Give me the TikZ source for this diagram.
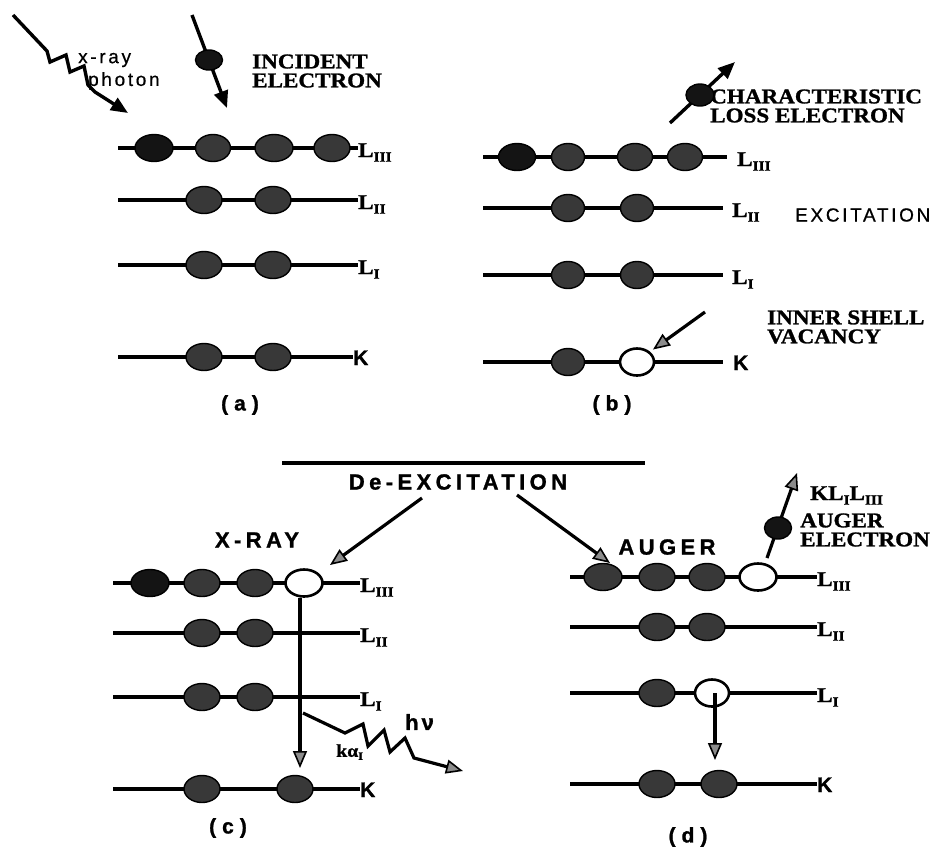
\documentclass[tikz,border=0pt]{standalone}
\usepackage{fontspec}
\setmainfont{Liberation Serif}
\newfontfamily\serb[FakeStretch=1.1,FakeBold=1.2]{Liberation Serif Bold}
\newfontfamily\sa{Liberation Sans}
\newfontfamily\sab[FakeBold=1.2]{Liberation Sans Bold}
\newfontfamily\sasp[LetterSpace=14,FakeBold=0.6]{Liberation Sans}
\newfontfamily\sabsp[LetterSpace=20,FakeBold=1.2]{Liberation Sans Bold}
\usetikzlibrary{shapes.geometric,arrows.meta,calc}
\newcommand{\Lsub}[1]{L\raisebox{-0.22em}{\fontsize{14}{14}\selectfont #1}}
\tikzset{
 lev/.style={line width=3.2},
 el/.style={ellipse,draw=black,fill=black!78,line width=1.4,minimum width=36,minimum height=27,inner sep=0},
 eld/.style={el,fill=black!92},
 hole/.style={ellipse,draw=black,fill=white,line width=2.6,minimum width=36,minimum height=27,inner sep=0},
 lab/.style={anchor=base west,inner sep=0,font=\serb\fontsize{21}{21}\selectfont},
 klab/.style={anchor=base west,inner sep=0,font=\sab\fontsize{21}{21}\selectfont},
 ser/.style={font=\serb\fontsize{21}{19}\selectfont,align=left,inner sep=0,anchor=west},
 sans/.style={font=\sasp\fontsize{19}{21}\selectfont,align=left,inner sep=0,anchor=west},
 sbold/.style={font=\sabsp\fontsize{22}{22}\selectfont,inner sep=0},
 plab/.style={font=\sab\fontsize{21}{21}\selectfont,inner sep=0},
 arr/.style={line width=3.4,-{Triangle[length=17,width=14]}},
 sarr/.style={line width=3.2,-{Triangle[length=17,width=14,line width=1.6,fill=black!45]}},
}
\begin{document}
\begin{tikzpicture}[x=1pt,y=-1pt]
\useasboundingbox (0,0) rectangle (940,847);
\fill[white] (0,0) rectangle (940,847);

% ================= panel (a)
\node[lab] (a1l) at (358,157) {\Lsub{III}};
\node[lab] (a2l) at (358,209) {\Lsub{II}};
\node[lab] (a3l) at (358,274) {\Lsub{I}};
\node[klab] (a4l) at (353,365) {K};
\coordinate (a1s) at (118,148);
\coordinate (a2s) at (118,200);
\coordinate (a3s) at (118,265);
\coordinate (a4s) at (118,357);
\draw[lev] (a1s) -- (a1s -| a1l.west);
\draw[lev] (a2s) -- (a2s -| a2l.west);
\draw[lev] (a3s) -- (a3s -| a3l.west);
\draw[lev] (a4s) -- (a4s -| a4l.west);
\node[eld,minimum width=38] (a1e1) at (154,148) {};
\node[el,minimum width=35] (a1e2) at (213,148) {};
\node[el,minimum width=38] (a1e3) at (274,148) {};
\node[el,minimum width=36] (a1e4) at (332,148) {};
\node[el] (a2e1) at (204,200) {};
\node[el] (a2e2) at (273,200) {};
\node[el] (a3e1) at (204,265) {};
\node[el] (a3e2) at (273,265) {};
\node[el] (a4e1) at (204,357) {};
\node[el] (a4e2) at (273,357) {};
\node[plab] (acap) at (240,405) {(\kern6pt a\kern6pt)};

% x-ray photon
\node[sans] (xr) at (78,60) {x-ray};
\node[sans] (ph) at (88,81) {photon};
\coordinate (xs) at (13,15);
\coordinate (xe) at (128,113);
\draw[line width=3.4,-{Triangle[length=17,width=14]}] (xs) -- (47,51) -- (50,62) -- (66,55) -- (70,72) -- (84,66) -- (88,85) -- (95,92) -- (xe);
% incident electron
\coordinate (ies) at (192,15);
\coordinate (iee) at (227,108);
\draw[arr] (ies) -- (iee);
\node[eld,minimum width=27,minimum height=20] (ie) at (209,60) {};
\node[ser] (ietx) at (252,71) {INCIDENT\\ELECTRON};

% ================= panel (b)
\node[lab] (b1l) at (737,166) {\Lsub{III}};
\node[lab] (b2l) at (732,217) {\Lsub{II}};
\node[lab] (b3l) at (732,284) {\Lsub{I}};
\node[klab] (b4l) at (733,370) {K};
\coordinate (b1s) at (483,157);
\coordinate (b2s) at (483,208);
\coordinate (b3s) at (483,275);
\coordinate (b4s) at (483,362);
\draw[lev,shorten >=10] (b1s) -- (b1s -| b1l.west);
\draw[lev,shorten >=9] (b2s) -- (b2s -| b2l.west);
\draw[lev,shorten >=9] (b3s) -- (b3s -| b3l.west);
\draw[lev,shorten >=10] (b4s) -- (b4s -| b4l.west);
\node[eld,minimum width=37] (b1e1) at (517,157) {};
\node[el,minimum width=33] (b1e2) at (568,157) {};
\node[el,minimum width=35] (b1e3) at (635,157) {};
\node[el,minimum width=35] (b1e4) at (685,157) {};
\node[el,minimum width=33] (b2e1) at (568,208) {};
\node[el,minimum width=33] (b2e2) at (637,208) {};
\node[el,minimum width=33] (b3e1) at (568,275) {};
\node[el,minimum width=33] (b3e2) at (637,275) {};
\node[el,minimum width=33] (b4e1) at (568,362) {};
\node[hole,minimum width=34] (b4h) at (637,362) {};
\node[plab] (bcap) at (612,405) {(\kern6pt b\kern6pt)};

\node[ser] (cltx) at (710,106) {CHARACTERISTIC\\LOSS ELECTRON};
\coordinate (cls) at (670,123);
\coordinate (cle) at (735,62);
\draw[arr] (cls) -- (cle);
\node[eld,minimum width=28,minimum height=22] (cle1) at (700,95) {};
\node[sans] (exc) at (795,215) {EXCITATION};
\node[ser] (ivtx) at (767,327) {INNER SHELL\\VACANCY};
\coordinate (ivs) at (705,312);
\draw[sarr] (ivs) -- ($(b4h.north east)+(3,-2)$);

% ================= De-excitation
\coordinate (dl) at (282,463);
\coordinate (dr) at (645,463);
\draw[lev] (dl) -- (dr);
\node[sbold] (dex) at (458,482) {De-EXCITATION};
\node[sbold] (xray) at (257,540) {X-RAY};
\node[sbold] (aug) at (667,547) {AUGER};
\coordinate (dals) at (422,498);
\coordinate (dale) at (330,565);
\coordinate (dars) at (517,495);
\coordinate (dare) at (610,563);
\draw[sarr] (dals) -- (dale);
\draw[sarr] (dars) -- (dare);

% ================= panel (c)
\node[lab] (c1l) at (360,592) {\Lsub{III}};
\node[lab] (c2l) at (360,642) {\Lsub{II}};
\node[lab] (c3l) at (360,706) {\Lsub{I}};
\node[klab] (c4l) at (360,797) {K};
\coordinate (c1s) at (113,583);
\coordinate (c2s) at (113,633);
\coordinate (c3s) at (113,697);
\coordinate (c4s) at (113,789);
\draw[lev] (c1s) -- (c1s -| c1l.west);
\draw[lev] (c2s) -- (c2s -| c2l.west);
\draw[lev] (c3s) -- (c3s -| c3l.west);
\draw[lev] (c4s) -- (c4s -| c4l.west);
\node[eld,minimum width=38] (c1e1) at (150,583) {};
\node[el] (c1e2) at (202,583) {};
\node[el] (c1e3) at (255,583) {};
\node[hole,minimum width=37] (c1h) at (304,583) {};
\node[el] (c2e1) at (202,633) {};
\node[el] (c2e2) at (255,633) {};
\node[el] (c3e1) at (202,697) {};
\node[el] (c3e2) at (255,697) {};
\node[el] (c4e1) at (202,789) {};
\node[el] (c4e2) at (295,789) {};
\coordinate (cvend) at (300,768);
\draw[sarr] (c1h.south -| cvend) -- (cvend);
\node[plab] (ccap) at (228,828) {(\kern6pt c\kern6pt)};
% photon h nu
\coordinate (hvs) at (303,713);
\coordinate (hve) at (463,771);
\draw[sarr] (hvs) -- (345,733) -- (363,724) -- (368,746) -- (384,730) -- (390,752) -- (405,738) -- (414,758) -- (hve);
\node[anchor=west,inner sep=0,font=\sab\fontsize{22}{22}\selectfont] (hv) at (405,722) {h\kern3ptν};
\node[anchor=west,inner sep=0,font=\serb\fontsize{18}{18}\selectfont] (ka) at (336,752) {kα\raisebox{-3pt}{\fontsize{11}{11}\selectfont I}};

% ================= panel (d)
\node[lab] (d1l) at (817,586) {\Lsub{III}};
\node[lab] (d2l) at (817,636) {\Lsub{II}};
\node[lab] (d3l) at (817,702) {\Lsub{I}};
\node[klab] (d4l) at (817,792) {K};
\coordinate (d1s) at (570,577);
\coordinate (d2s) at (570,627);
\coordinate (d3s) at (570,693);
\coordinate (d4s) at (570,784);
\draw[lev] (d1s) -- (d1s -| d1l.west);
\draw[lev] (d2s) -- (d2s -| d2l.west);
\draw[lev] (d3s) -- (d3s -| d3l.west);
\draw[lev] (d4s) -- (d4s -| d4l.west);
\node[el,minimum width=38] (d1e1) at (603,577) {};
\node[el] (d1e2) at (657,577) {};
\node[el] (d1e3) at (707,577) {};
\node[hole,minimum width=37] (d1h) at (758,577) {};
\node[el] (d2e1) at (657,627) {};
\node[el] (d2e2) at (707,627) {};
\node[el] (d3e1) at (657,693) {};
\node[hole,minimum width=34] (d3h) at (712,693) {};
\node[el] (d4e1) at (657,784) {};
\node[el] (d4e2) at (719,784) {};
\coordinate (dvend) at (715,760);
\draw[sarr] (d3h.center -| dvend) -- (dvend);
\node[plab] (dcap) at (688,837) {(\kern6pt d\kern6pt)};
% auger electron
\coordinate (aes) at (767,558);
\coordinate (aee) at (797,473);
\draw[sarr] (aes) -- (aee);
\node[eld,minimum width=27,minimum height=22] (ae) at (778,528) {};
\node[ser,anchor=base west] (kll) at (810,500) {K\Lsub{I}\Lsub{III}};
\node[ser] (aetx) at (800,530) {AUGER\\ELECTRON};
\end{tikzpicture}
\end{document}
